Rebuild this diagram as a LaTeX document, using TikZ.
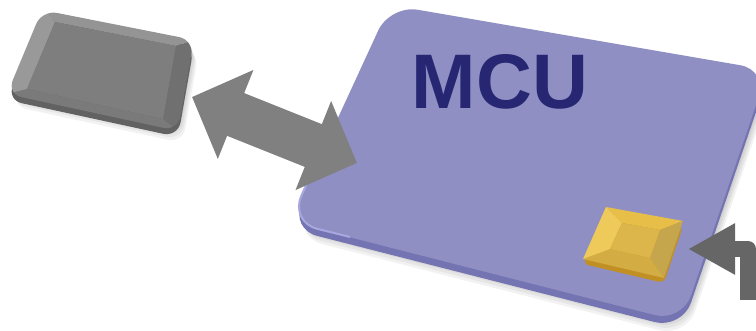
\documentclass[tikz,border=0pt]{standalone}
\usepackage{fontspec}
\setmainfont{Liberation Sans}
\usetikzlibrary{arrows.meta}
\definecolor{mcuface}{HTML}{8F8FC3}
\definecolor{mcuside}{HTML}{7474B2}
\definecolor{mcuedge}{HTML}{A8A8E0}
\definecolor{mcutext}{HTML}{262673}
\definecolor{tileface}{HTML}{7E7E7E}
\definecolor{tileside}{HTML}{626262}
\definecolor{goldside}{HTML}{C09024}
\definecolor{goldtop}{HTML}{E6BE48}
\definecolor{goldleft}{HTML}{EECA5A}
\definecolor{goldright}{HTML}{C6A64C}
\definecolor{goldbottom}{HTML}{D4AC44}
\definecolor{goldmid}{HTML}{DCB64A}
\definecolor{linkgray}{HTML}{808080}
\definecolor{pingray}{HTML}{666666}
\tikzset{
  shadow/.style={black,opacity=0.05},
  link/.style={linkgray,line width=0.46cm,{Triangle[length=0.47cm,width=0.93cm]}-{Triangle[length=0.47cm,width=0.93cm]}},
  pin/.style={pingray,line width=0.16cm,line join=round,-{Triangle[length=0.47cm,width=0.48cm]}},
}

\begin{document}
\begin{tikzpicture}[x=0.01cm,y=-0.01cm]
\useasboundingbox (0,0) rectangle (756,331);
% gray tile
\foreach \d in {3,6,9,12} \fill[shadow,rounded corners=0.15cm,shift={({\d*0.4},\d)}] (42,10) -- (194,40) -- (178,131) -- (7,94) -- cycle;
\fill[tileside,rounded corners=0.15cm] (42,16) -- (194,46) -- (178,137) -- (7,100) -- cycle;
\begin{scope}
\clip[rounded corners=0.15cm] (42,10) -- (194,40) -- (178,131) -- (7,94) -- cycle;
\fill[black!42] (42,10) -- (194,40) -- (176,46) -- (55,22) -- cycle;
\fill[black!56] (194,40) -- (178,131) -- (163,119) -- (176,46) -- cycle;
\fill[black!52] (178,131) -- (7,94) -- (27,89) -- (163,119) -- cycle;
\fill[black!40] (7,94) -- (42,10) -- (55,22) -- (27,89) -- cycle;
\fill[tileface] (55,22) -- (176,46) -- (163,119) -- (27,89) -- cycle;
\end{scope}
\coordinate (tile) at (100,70);
% mcu
\foreach \d in {3,6,9,12,15} \fill[shadow,rounded corners=0.28cm,shift={({\d*0.3},\d)}] (390,5) -- (768,70) -- (682,322) -- (290,222) -- cycle;
\fill[mcuside,rounded corners=0.28cm] (390,12) -- (768,77) -- (682,329) -- (290,229) -- cycle;
\fill[mcuface,rounded corners=0.28cm] (390,5) -- (768,70) -- (682,322) -- (290,222) -- cycle;
\draw[mcuedge,line width=0.02cm,rounded corners=0.28cm] (330,130) -- (290,222) -- (350,237);
\node[mcutext,font=\bfseries\fontsize{22}{26}\selectfont] (mcu) at (500,82) {MCU};
% button
\fill[goldside,rounded corners=0.06cm] (606,212) -- (683,226) -- (664,283) -- (583,264) -- cycle;
\fill[goldtop] (606,207) -- (683,221) -- (660,230) -- (622,223) -- cycle;
\fill[goldright] (683,221) -- (664,278) -- (650,258) -- (660,230) -- cycle;
\fill[goldbottom] (664,278) -- (583,259) -- (610,249) -- (650,258) -- cycle;
\fill[goldleft] (583,259) -- (606,207) -- (622,223) -- (610,249) -- cycle;
\fill[goldmid] (622,223) -- (660,230) -- (650,258) -- (610,249) -- cycle;
% arrows
\coordinate (linkA) at (192,97);
\coordinate (linkB) at (357,163);
\draw[link] (linkA) -- (linkB);
\coordinate (pinIn) at (748,300);
\coordinate (btn) at (688,249);
\draw[pin] (pinIn) |- (btn);
\end{tikzpicture}
\end{document}
